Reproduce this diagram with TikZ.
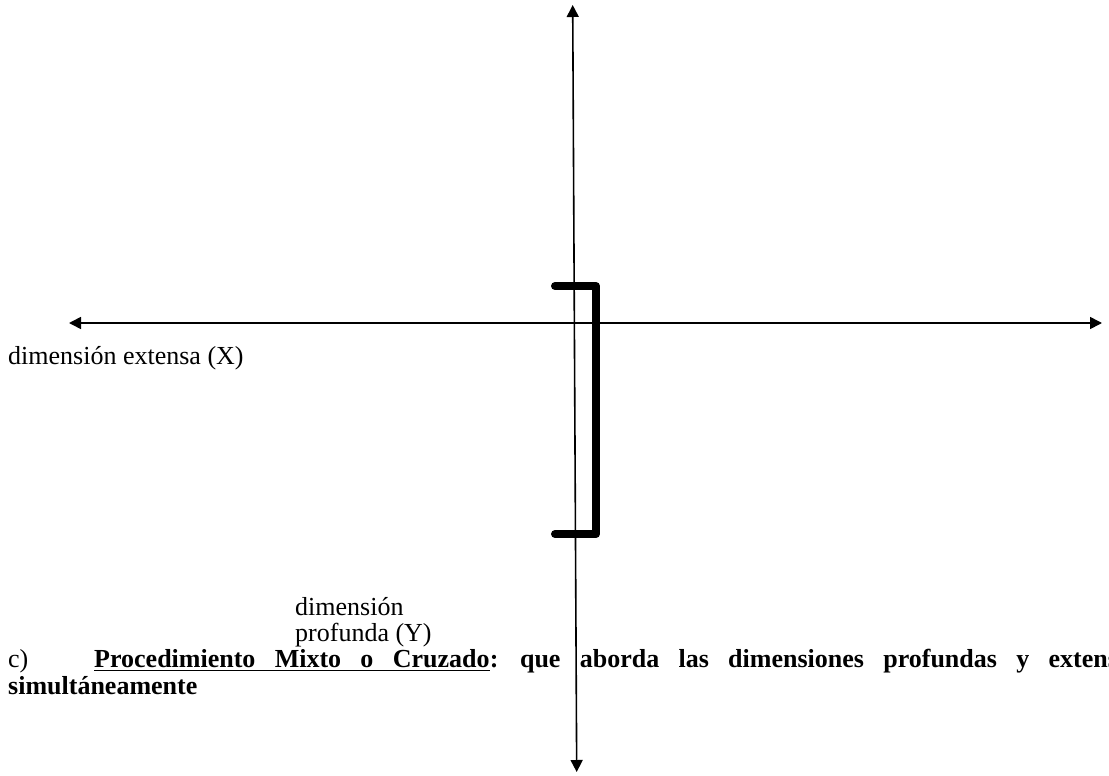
\documentclass[tikz,border=0pt]{standalone}
\usepackage{fontspec}
\setmainfont{Liberation Serif}
\usetikzlibrary{arrows.meta}
\begin{document}
\begin{tikzpicture}[x=1pt,y=-1pt,
  axis/.style={line width=1.6pt,{Triangle[length=12pt,width=12pt]}-{Triangle[length=12pt,width=12pt]}},
  bracketline/.style={line width=8pt,line cap=round,line join=round},
  lbl/.style={inner sep=0pt,anchor=base west,font=\fontsize{26}{26}\selectfont},
  blbl/.style={lbl,font=\fontsize{26}{26}\selectfont\bfseries}]
\useasboundingbox (0,0) rectangle (1109,776);
% axes
\coordinate (ytop) at (572.7,5);
\coordinate (ybot) at (576.7,772);
\coordinate (xl) at (69,323);
\coordinate (xr) at (1102,323);
\draw[axis] (ybot) -- (ytop);
\draw[axis] (xl) -- (xr);
% bracket
\coordinate (b1) at (555,286);
\coordinate (b2) at (596,286);
\coordinate (b3) at (596,534);
\coordinate (b4) at (555,534);
\draw[bracketline] (b1) -- (b2) -- (b3) -- (b4);
% labels
\node[lbl] (xlab) at (8,364) {dimensión extensa (X)};
\node[lbl] (ylab1) at (295,615) {dimensión};
\node[lbl] (ylab2) at (295,641) {profunda (Y)};
\node[lbl] (cmark) at (8,667) {c)};
\node[blbl] (pcm) at (94,667) {\spaceskip=19.3pt\relax Procedimiento Mixto o Cruzado};
\node[blbl] (rest) at (pcm.base east) {\spaceskip=19.3pt\relax : que aborda las dimensiones profundas y extens};
\draw[line width=1.8pt] ([yshift=-3.5pt]pcm.base west) -- ([yshift=-3.5pt]pcm.base east);
\node[blbl] (simul) at (8,694) {simultáneamente};
\end{tikzpicture}
\end{document}
